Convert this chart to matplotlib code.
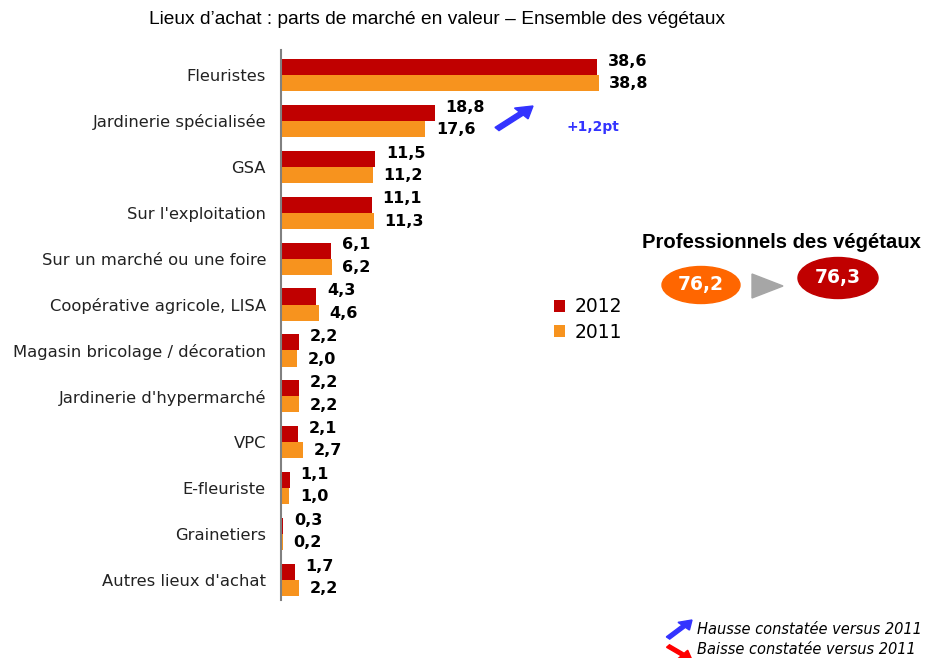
import matplotlib
matplotlib.use('Agg')
import matplotlib.pyplot as plt
from matplotlib.patches import Ellipse, Polygon, FancyArrow

categories = ["Fleuristes", "Jardinerie spécialisée", "GSA", "Sur l'exploitation",
              "Sur un marché ou une foire", "Coopérative agricole, LISA",
              "Magasin bricolage / décoration", "Jardinerie d'hypermarché", "VPC",
              "E-fleuriste", "Grainetiers", "Autres lieux d'achat"]
values_2012 = [38.6, 18.8, 11.5, 11.1, 6.1, 4.3, 2.2, 2.2, 2.1, 1.1, 0.3, 1.7]
values_2011 = [38.8, 17.6, 11.2, 11.3, 6.2, 4.6, 2.0, 2.2, 2.7, 1.0, 0.2, 2.2]
pro_2011 = 76.2
pro_2012 = 76.3

RED = "#C00000"
ORANGE = "#F7931E"

def fr(v):
    return f"{v:.1f}".replace(".", ",")

W, H = 925, 658
fig = plt.figure(figsize=(W / 100, H / 100), dpi=100)

# axes box in pixel coords: x 281..640, y 50..600
ax = fig.add_axes([281 / W, 1 - 600 / H, (640 - 281) / W, 550 / H])
px_per_unit = (597 - 281) / 38.6
ax.set_xlim(0, (640 - 281) / px_per_unit)
ax.set_ylim(11 + 20 / 45.9, -25 / 45.9)

y = list(range(len(categories)))
bh = 0.35
off = 0.175
ax.barh([i - off for i in y], values_2012, height=bh, color=RED, label="2012")
ax.barh([i + off for i in y], values_2011, height=bh, color=ORANGE, label="2011")

for i in y:
    ax.text(values_2012[i] + 1.3, i - 0.3, fr(values_2012[i]), va="center", ha="left",
            fontsize=11.5, fontweight="bold")
    ax.text(values_2011[i] + 1.3, i + 0.19, fr(values_2011[i]), va="center", ha="left",
            fontsize=11.5, fontweight="bold")

ax.set_yticks(y)
ax.set_yticklabels(categories, fontsize=11.8, color="#222222")
ax.tick_params(axis="y", length=0, pad=10.8)
ax.set_xticks([])
for s in ["top", "right", "bottom"]:
    ax.spines[s].set_visible(False)
ax.spines["left"].set_color("#808080")
ax.spines["left"].set_linewidth(1.5)

leg = fig.legend(loc="upper left", bbox_to_anchor=(546 / W, 1 - 290 / H), frameon=False,
                 fontsize=13.5, handlelength=0.6, handleheight=0.6, handletextpad=0.5,
                 labelspacing=0.35, borderaxespad=0)

fig.text(437 / W, 1 - 20 / H, "Lieux d\u2019achat : parts de marché en valeur \u2013 Ensemble des végétaux",
         ha="center", va="center", fontsize=13.8, family="Liberation Sans")

# blue arrow + delta
fig.patches.append(FancyArrow(497 / W, 1 - 129 / H, 36 / W, 23 / H, width=0.0065, head_width=0.022,
                              head_length=0.017, length_includes_head=True, color="#3333FF",
                              transform=fig.transFigure, figure=fig))
fig.text(593 / W, 1 - 127 / H, "+1,2pt", color="#3333FF", fontsize=10, fontweight="bold",
         ha="center", va="center")

# professionnels block
fig.text(781 / W, 1 - 242 / H, "Professionnels des végétaux", ha="center", va="center",
         fontsize=14.6, fontweight="bold", family="Liberation Sans")
fig.patches.append(Ellipse((701 / W, 1 - 285 / H), 78 / W, 37 / H, color="#FF6600",
                           transform=fig.transFigure, figure=fig))
fig.patches.append(Ellipse((838 / W, 1 - 278 / H), 80 / W, 41 / H, color=RED,
                           transform=fig.transFigure, figure=fig))
fig.patches.append(Polygon([(752 / W, 1 - 274 / H), (752 / W, 1 - 298 / H), (783 / W, 1 - 286 / H)],
                           closed=True, color="#A6A6A6", transform=fig.transFigure, figure=fig))
fig.text(701 / W, 1 - 285 / H, fr(pro_2011), color="white", fontsize=13.5, fontweight="bold",
         ha="center", va="center")
fig.text(838 / W, 1 - 277 / H, fr(pro_2012), color="white", fontsize=13.5, fontweight="bold",
         ha="center", va="center")

# footnote
fig.patches.append(FancyArrow(668 / W, 1 - 638 / H, 24 / W, 18 / H, width=0.005, head_width=0.017,
                              head_length=0.013, length_includes_head=True, color="#3333FF",
                              transform=fig.transFigure, figure=fig))
fig.text(697 / W, 1 - 629 / H, "Hausse constatée versus 2011", fontsize=10.5, style="italic",
         ha="left", va="center")
fig.patches.append(FancyArrow(668 / W, 1 - 646 / H, 24 / W, -14 / H, width=0.005, head_width=0.017,
                              head_length=0.013, length_includes_head=True, color="#FF0000",
                              transform=fig.transFigure, figure=fig))
fig.text(697 / W, 1 - 650 / H, "Baisse constatée versus 2011", fontsize=10.5, style="italic",
         ha="left", va="center")

fig.savefig("out.png", dpi=100, facecolor="white")
